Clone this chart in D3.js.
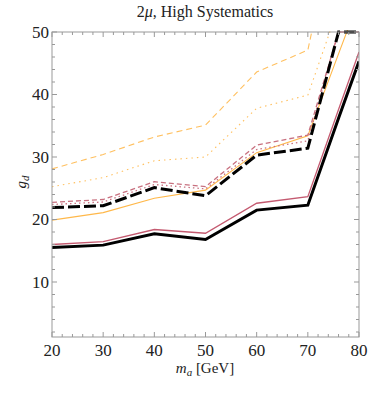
<!DOCTYPE html>
<html lang="en">
<head>
<meta charset="UTF-8">
<title>2mu, High Systematics</title>
<script src="https://d3js.org/d3.v7.min.js"></script>
<style>
  body { margin: 0; background: white; }
  svg { display: block; }
  text { font-family: "Liberation Serif", "DejaVu Serif", serif; fill: #222; }
  .frame { fill: none; stroke: #999; stroke-width: 1; }
  .tick { stroke: #999; stroke-width: 1; }
  .curve { fill: none; stroke-linejoin: miter; }
</style>
</head>
<body>
<script>
// masses (GeV) at which the limits are sampled
const mass = [20, 30, 40, 50, 60, 70, 76, 80];

// g_d limits, null where the curve is off the chart
const blackSolid  = [15.5, 15.9, 17.7, 16.8, 21.5, 22.3, 36.2, 45.3];
const pinkSolid   = [16.0, 16.45, 18.4, 17.8, 22.6, 23.65, 37.6, 46.8];
const blackDashed = [21.9, 22.2, 25.1, 23.8, 30.3, 31.4, 50, 50];
const pinkDotted  = [22.4, 22.8, 25.6, 24.9, 31.2, 32.6, 50, 50];
const pinkDashed  = [22.75, 23.2, 26.05, 25.25, 31.9, 33.5, 50, 50];
const orangeSolid = [19.9, 21.1, 23.4, 24.7, 30.7, 33.4, 46.5, 55.2];
const orangeDotted = [25.25, 26.7, 29.4, 30.0, 37.8, 39.9, 54.0, null];
const orangeDashed = [28.1, 30.4, 33.2, 35.1, 43.6, 47.1, 70, null];

const xTicks = [20, 30, 40, 50, 60, 70, 80];
const yTicks = [10, 20, 30, 40, 50];

const width = 374, height = 396;
const margin = { left: 52, right: 15, top: 32, bottom: 59 };

const svg = d3.select("body").append("svg")
  .attr("width", width)
  .attr("height", height);

const x = d3.scaleLinear().domain([20, 80]).range([margin.left, width - margin.right]);
const y = d3.scaleLinear().domain([1.2, 50]).range([height - margin.bottom, margin.top]);

svg.append("defs").append("clipPath").attr("id", "plot-clip")
  .append("rect")
  .attr("x", x(20)).attr("y", y(50) - 2)
  .attr("width", x(80) - x(20)).attr("height", y(1.2) - y(50) + 2);

// curves
const series = [
  { vals: orangeDashed, color: "#ffc060", w: 1.1, dash: "6,4" },
  { vals: orangeDotted, color: "#ffc060", w: 1.1, dash: "1.5,4" },
  { vals: orangeSolid,  color: "#ffb84a", w: 1.1, dash: null },
  { vals: pinkDashed,   color: "#c8707f", w: 1.3, dash: "5,3" },
  { vals: pinkDotted,   color: "#c8707f", w: 1.3, dash: "1.5,3" },
  { vals: pinkSolid,    color: "#c45a70", w: 1.3, dash: null },
  { vals: blackDashed,  color: "#000", w: 3, dash: "12,4" },
  { vals: blackSolid,   color: "#000", w: 3, dash: null }
];

const line = d3.line()
  .defined(d => d[1] != null)
  .x(d => x(d[0]))
  .y(d => y(d[1]));

const g = svg.append("g").attr("clip-path", "url(#plot-clip)");
series.forEach(s => {
  g.append("path")
    .attr("class", "curve")
    .attr("d", line(mass.map((m, i) => [m, s.vals[i]])))
    .attr("stroke", s.color)
    .attr("stroke-width", s.w)
    .attr("stroke-dasharray", s.dash);
});

// frame
svg.append("rect").attr("class", "frame")
  .attr("x", x(20)).attr("y", y(50))
  .attr("width", x(80) - x(20)).attr("height", y(1.2) - y(50));

// ticks, inward on every side
const xMinor = d3.range(20, 80.01, 2);
const yMinor = d3.range(2, 50.01, 2);
const tk = svg.append("g");
xMinor.forEach(v => {
  const len = v % 10 === 0 ? 5 : 3;
  tk.append("line").attr("class", "tick")
    .attr("x1", x(v)).attr("x2", x(v))
    .attr("y1", y(1.2)).attr("y2", y(1.2) - len);
  tk.append("line").attr("class", "tick")
    .attr("x1", x(v)).attr("x2", x(v))
    .attr("y1", y(50)).attr("y2", y(50) + len);
});
yMinor.forEach(v => {
  const len = v % 10 === 0 ? 5 : 3;
  tk.append("line").attr("class", "tick")
    .attr("x1", x(20)).attr("x2", x(20) + len)
    .attr("y1", y(v)).attr("y2", y(v));
  tk.append("line").attr("class", "tick")
    .attr("x1", x(80)).attr("x2", x(80) - len)
    .attr("y1", y(v)).attr("y2", y(v));
});

// tick labels
svg.selectAll(".xlab").data(xTicks).enter().append("text")
  .attr("class", "xlab")
  .attr("x", d => x(d))
  .attr("y", y(1.2) + 19)
  .attr("text-anchor", "middle")
  .style("font-size", "17px")
  .text(d => d);

svg.selectAll(".ylab").data(yTicks).enter().append("text")
  .attr("class", "ylab")
  .attr("x", x(20) - 3)
  .attr("y", d => y(d) + 5.5)
  .attr("text-anchor", "end")
  .style("font-size", "17px")
  .text(d => d);

// title
const title = svg.append("text")
  .attr("x", 205).attr("y", 17)
  .attr("text-anchor", "middle")
  .style("font-size", "16px");
title.append("tspan").text("2");
title.append("tspan").style("font-style", "italic").text("μ");
title.append("tspan").text(", High Systematics");

// axis labels
const xl = svg.append("text")
  .attr("x", 205).attr("y", 373)
  .attr("text-anchor", "middle")
  .style("font-size", "15px");
xl.append("tspan").style("font-style", "italic").text("m");
xl.append("tspan").style("font-style", "italic").style("font-size", "11px").attr("dy", 3).text("a");
xl.append("tspan").attr("dy", -3).text(" [GeV]");

const yl = svg.append("text")
  .attr("transform", `translate(26,${y(26)}) rotate(-90)`)
  .attr("text-anchor", "middle")
  .style("font-size", "15px");
yl.append("tspan").style("font-style", "italic").text("g");
yl.append("tspan").style("font-style", "italic").style("font-size", "11px").attr("dy", 3).text("d");
</script>
</body>
</html>
